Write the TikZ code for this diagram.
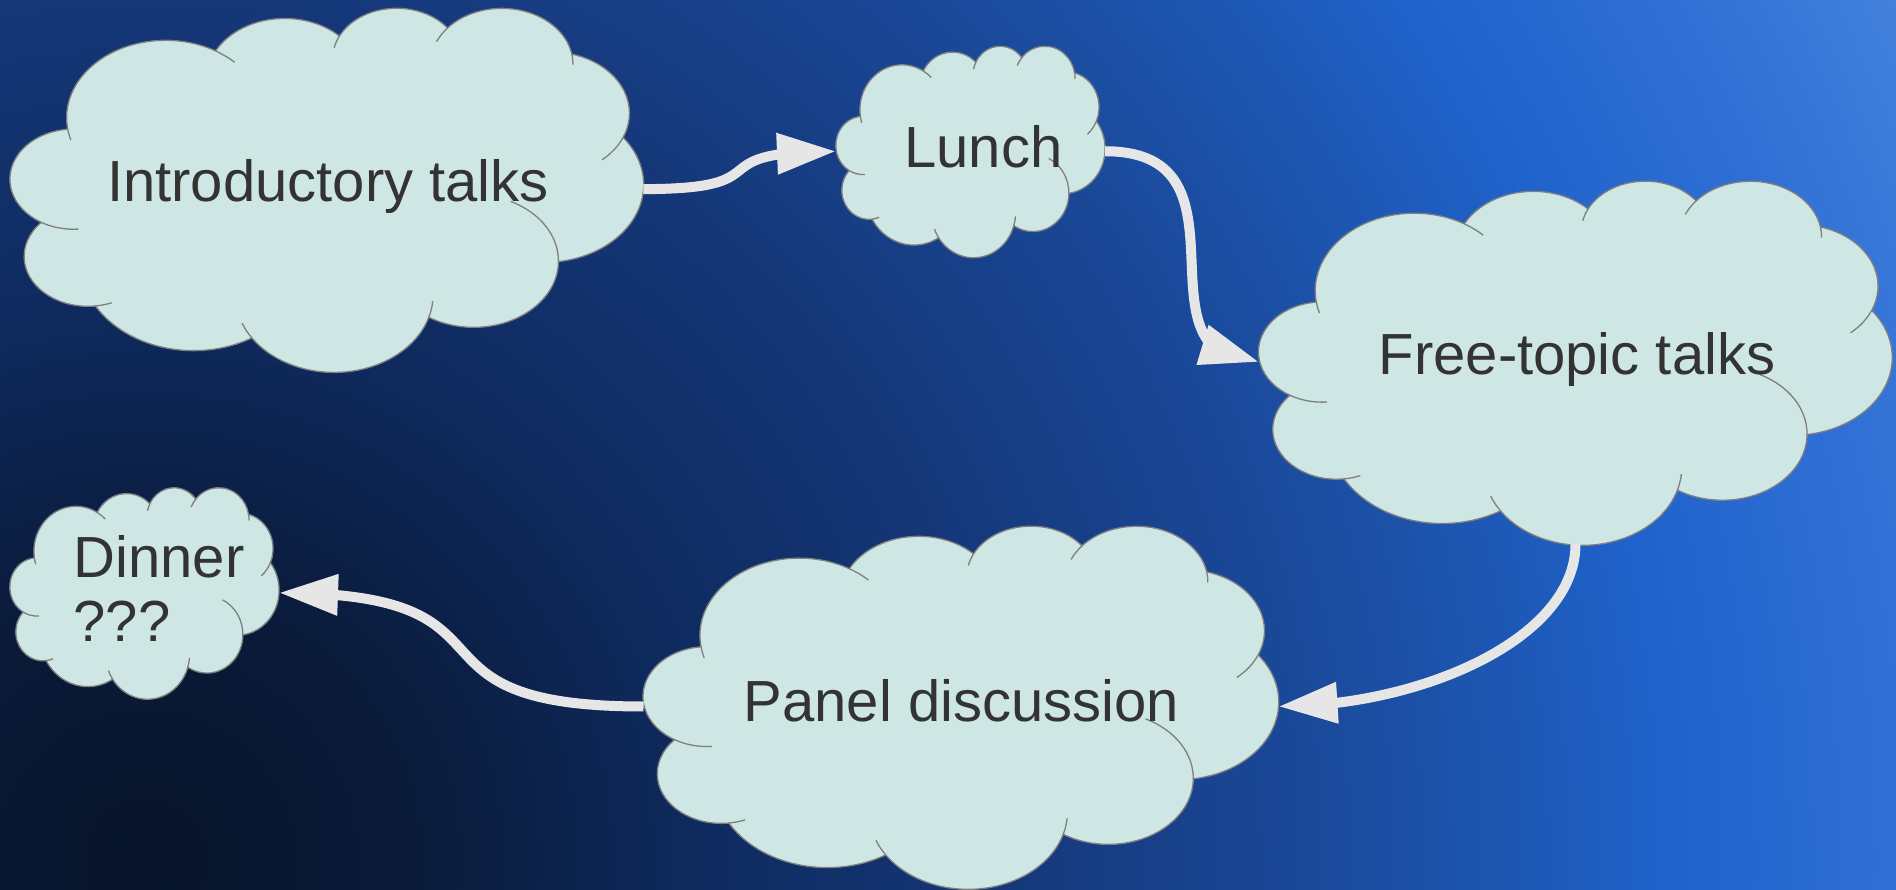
\documentclass[tikz,border=0pt]{standalone}
\usepackage{fontspec}
\setmainfont{Liberation Sans}
\usetikzlibrary{arrows.meta,bending}
\definecolor{bgA}{HTML}{07142A}
\definecolor{bgB}{HTML}{0A1A38}
\definecolor{bgC}{HTML}{0E2A5E}
\definecolor{bgD}{HTML}{15387A}
\definecolor{bgE}{HTML}{1A4898}
\definecolor{bgF}{HTML}{1D56B1}
\definecolor{bgG}{HTML}{1F62CB}
\definecolor{bgH}{HTML}{2F6FD5}
\definecolor{bgI}{HTML}{4381DC}
\definecolor{cloudc}{HTML}{CFE7E4}
\definecolor{cloudedge}{HTML}{7F7F7F}
\definecolor{txtc}{HTML}{333333}
\definecolor{arrowc}{HTML}{E6E6E6}
\pgfdeclareradialshading{bgshade}{\pgfpoint{0pt}{0pt}}{%
  color(0pt)=(bgA); color(255pt)=(bgB); color(555pt)=(bgC); color(870pt)=(bgD);
  color(1150pt)=(bgE); color(1360pt)=(bgF); color(1520pt)=(bgG); color(1740pt)=(bgH);
  color(1960pt)=(bgI)}
\newcommand\lobe[4]{arc[x radius=#1*\cw*1pt, y radius=#2*\ch*1pt, start angle=#3, delta angle=#4]}
\newcommand\drawcloud[5]{%
  \def\cw{#4}\def\ch{#5}%
  \path[cloudfill] ({#2-#4/2+0.09028*#4},{#3-#5/2+0.33264*#5}) coordinate (#1-j0)
    \lobe{0.15632}{0.21273}{187.745}{-128.115} coordinate (#1-j1)
    \lobe{0.12345}{0.16822}{152.02}{-106.565} coordinate (#1-j2)
    \lobe{0.10104}{0.13762}{153.49}{-116.16} coordinate (#1-j3)
    \lobe{0.11243}{0.15266}{139.715}{-129.505} coordinate (#1-j4)
    \lobe{0.12345}{0.16836}{74.772}{-97.981} coordinate (#1-j5)
    \lobe{0.15683}{0.21343}{37.525}{-119.391} coordinate (#1-j6)
    \lobe{0.13391}{0.18211}{-0.46}{-121.52} coordinate (#1-j7)
    \lobe{0.15630}{0.21331}{-16.845}{-129.395} coordinate (#1-j8)
    \lobe{0.17870}{0.24405}{-58.987}{-91.198} coordinate (#1-j9)
    \lobe{0.10093}{0.13699}{-83.305}{-139.80} coordinate (#1-j10)
    \lobe{0.10058}{0.13762}{-120.35}{-143.76} -- cycle;
  \draw[cloudline]
    (#1-j0) \lobe{0.15632}{0.21273}{187.745}{9.07}
    (#1-j1) \lobe{0.15632}{0.21273}{59.63}{-13.9}
    (#1-j2) \lobe{0.10104}{0.13762}{153.49}{14.23}
    (#1-j3) \lobe{0.11243}{0.15266}{139.715}{16.57}
    (#1-j4) \lobe{0.11243}{0.15266}{10.21}{-11.03}
    (#1-j5) \lobe{0.12345}{0.16836}{-23.209}{-26.42}
    (#1-j6) \lobe{0.13391}{0.18211}{-0.46}{64.46}
    (#1-j7) \lobe{0.15630}{0.21331}{-16.845}{12.11}
    (#1-j8) \lobe{0.15630}{0.21331}{-146.24}{-12.23}
    (#1-j9) \lobe{0.10093}{0.13699}{-83.305}{15.06}
    (#1-j10) \lobe{0.10058}{0.13762}{-120.35}{34.81};
  \node[cloudbox, minimum width=#4, minimum height=#5] (#1) at (#2,#3) {};
}
\begin{document}
\begin{tikzpicture}[x=1pt,y=-1pt,
  cloudfill/.style={fill=cloudc, draw=cloudedge, line width=1.3pt},
  cloudline/.style={draw=cloudedge, line width=1.3pt},
  cloudbox/.style={inner sep=0pt, outer sep=0pt, draw=none, rectangle},
  cloudtext/.style={text=txtc, font=\fontsize{58pt}{64.5pt}\selectfont, inner sep=0pt, outer sep=0pt},
  conn/.style={draw=arrowc, line width=10pt, -{Triangle[length=59pt,width=39pt,flex]}}]
\useasboundingbox (0,0) rectangle (1896,890);
\begin{scope}
  \clip (0,0) rectangle (1896,890);
  \node[inner sep=0pt, outer sep=0pt] (bg) at (145,860) {\pgfuseshading{bgshade}};
\end{scope}

\drawcloud{intro}{326.9}{189.1}{633}{364}
\drawcloud{lunch}{970.5}{151.25}{269}{211.5}
\drawcloud{free}{1575.5}{362}{633}{364}
\drawcloud{panel}{961}{706.5}{635}{363}
\drawcloud{dinner}{144.5}{592.75}{269}{211.5}

\node[cloudtext, anchor=base] (introtext) at (327.9,202) {Introductory talks};
\node[cloudtext, anchor=base] (lunchtext) at (983.4,167.3) {Lunch};
\node[cloudtext, anchor=base] (freetext) at (1577,375) {Free-topic talks};
\node[cloudtext, anchor=base] (paneltext) at (961.4,721) {Panel discussion};
\node[cloudtext, anchor=base west] (dinnertext) at (73.7,577.3)
  {\begin{tabular}[t]{@{}l@{}}Dinner\\???\end{tabular}};

\draw[conn] (intro.east) .. controls +(145,0) and +(-145,0) .. (lunch.west);
\draw[conn] (lunch.east) .. controls +(157,0) and +(-132,0) .. (free.west);
\draw[conn] (free.south) .. controls +(0,95) and +(142,0) .. (panel.east);
\draw[conn] (panel.west) .. controls +(-260,0) and +(260,0) .. (dinner.east);
\end{tikzpicture}
\end{document}
